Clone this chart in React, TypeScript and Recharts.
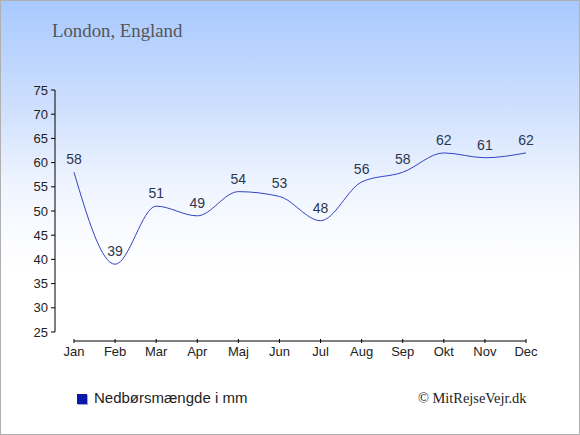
import React from "react";
import { LineChart, Line, XAxis, YAxis, LabelList } from "recharts";

const months = ["Jan", "Feb", "Mar", "Apr", "Maj", "Jun", "Jul", "Aug", "Sep", "Okt", "Nov", "Dec"];
const rainfall = [58, 39, 51, 49, 54, 53, 48, 56, 58, 62, 61, 62];
const yTicks = [25, 30, 35, 40, 45, 50, 55, 60, 65, 70, 75];

const data = months.map((m, i) => ({ month: m, value: rainfall[i] }));

const sans = "'Liberation Sans', Arial, sans-serif";
const serif = "'Liberation Serif', 'Times New Roman', serif";

export default function App() {
  return (
    <div
      style={{
        position: "absolute",
        left: 0,
        top: 0,
        width: 580,
        height: 435,
        boxSizing: "border-box",
        border: "1px solid #b0b0b0",
        background:
          "linear-gradient(to bottom, #a8c9ff 0%, #cfe0fd 25%, #eef4ff 42%, #fbfcff 55%, #ffffff 62%, #ffffff 100%)",
        overflow: "hidden",
      }}
    >
      <div
        style={{
          position: "absolute",
          left: 51,
          top: 19,
          fontFamily: serif,
          fontSize: 18.8,
          color: "#555555",
        }}
      >
        London, England
      </div>
      <div style={{ position: "absolute", left: -1, top: -1 }}>
        <LineChart
          width={580}
          height={435}
          data={data}
          margin={{ top: 90, right: 54, bottom: 64, left: 15 }}
        >
          <XAxis
            dataKey="month"
            padding={{ left: 19, right: 0 }}
            axisLine={{ stroke: "#000", strokeDasharray: "0 19 1000" }}
            tickLine={{ stroke: "#000", transform: "translate(0,-2)" }}
            tickSize={4}
            tickMargin={2}
            height={30}
            interval={0}
            tick={{ fill: "#222", fontSize: 13, fontFamily: sans }}
          />
          <YAxis
            domain={[25, 75]}
            ticks={yTicks}
            interval={0}
            padding={{ top: 0, bottom: 9 }}
            axisLine={{ stroke: "#000", strokeDasharray: "242 1000" }}
            tickLine={{ stroke: "#000" }}
            tickSize={4}
            tickMargin={3}
            width={40}
            tick={{ fill: "#222", fontSize: 13, fontFamily: sans }}
          />
          <Line
            type="monotone"
            dataKey="value"
            stroke="#3344c0"
            strokeWidth={1}
            dot={false}
            isAnimationActive={false}
          >
            <LabelList
              dataKey="value"
              position="top"
              offset={8}
              fill="#2b3750"
              fontSize={14}
              fontFamily={sans}
            />
          </Line>
        </LineChart>
      </div>
      <div
        style={{
          position: "absolute",
          left: 76,
          top: 393,
          width: 10,
          height: 10,
          background: "#0a1aa8",
          boxShadow: "1px 1px 0 #9aa4d8",
        }}
      />
      <div
        style={{
          position: "absolute",
          left: 93,
          top: 388,
          fontFamily: sans,
          fontSize: 15,
          color: "#222",
        }}
      >
        Nedbørsmængde i mm
      </div>
      <div
        style={{
          position: "absolute",
          left: 417,
          top: 389,
          fontFamily: serif,
          fontSize: 14.4,
          color: "#222",
        }}
      >
        © MitRejseVejr.dk
      </div>
    </div>
  );
}
